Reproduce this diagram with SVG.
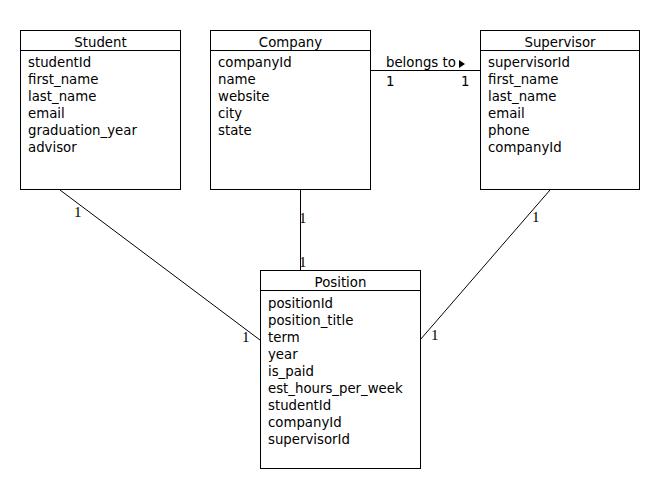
<svg xmlns="http://www.w3.org/2000/svg" width="660" height="490" viewBox="0 0 660 490">
<style>
.box{fill:#fff;stroke:#000;stroke-width:1}
.sep{stroke:#000;stroke-width:1}
.t{font-family:"DejaVu Sans",sans-serif;font-size:13.3px;fill:#000}
.h{font-family:"DejaVu Sans",sans-serif;font-size:13.3px;fill:#000;text-anchor:middle}
.m{font-family:"Liberation Serif",serif;font-size:15px;fill:#000}
.c{stroke:#000;stroke-width:1;fill:none}
</style>
<rect width="660" height="490" fill="#fff"/>
<g id="connectors">
<line class="c" x1="60" y1="190" x2="260" y2="340"/>
<line class="c" x1="300.5" y1="190" x2="300.5" y2="270"/>
<line class="c" x1="550" y1="190" x2="420" y2="340"/>
<line class="c" x1="370" y1="70.5" x2="480" y2="70.5"/>
<text class="m" x="74" y="217">1</text>
<text class="m" x="242" y="342">1</text>
<text class="m" x="299" y="223">1</text>
<text class="m" x="299" y="267">1</text>
<text class="m" x="532" y="222">1</text>
<text class="m" x="431" y="340">1</text>
<text class="t" x="386" y="67">belongs to</text>
<polygon points="459,60 465,64 459,68" fill="#000"/>
<text class="t" x="386" y="86">1</text>
<text class="t" x="461" y="86">1</text>
</g>
<g id="student">
<rect class="box" x="20.5" y="30.5" width="160" height="159"/>
<line class="sep" x1="20" y1="50.5" x2="181" y2="50.5"/>
<text class="h" x="100.5" y="47">Student</text>
<text class="t" x="28" y="67">studentId</text>
<text class="t" x="28" y="84">first_name</text>
<text class="t" x="28" y="101">last_name</text>
<text class="t" x="28" y="118">email</text>
<text class="t" x="28" y="135">graduation_year</text>
<text class="t" x="28" y="152">advisor</text>
</g>
<g id="company">
<rect class="box" x="210.5" y="30.5" width="160" height="159"/>
<line class="sep" x1="210" y1="50.5" x2="371" y2="50.5"/>
<text class="h" x="290.5" y="47">Company</text>
<text class="t" x="218" y="67">companyId</text>
<text class="t" x="218" y="84">name</text>
<text class="t" x="218" y="101">website</text>
<text class="t" x="218" y="118">city</text>
<text class="t" x="218" y="135">state</text>
</g>
<g id="supervisor">
<rect class="box" x="480.5" y="30.5" width="159" height="159"/>
<line class="sep" x1="480" y1="50.5" x2="640" y2="50.5"/>
<text class="h" x="560" y="47">Supervisor</text>
<text class="t" x="488" y="67">supervisorId</text>
<text class="t" x="488" y="84">first_name</text>
<text class="t" x="488" y="101">last_name</text>
<text class="t" x="488" y="118">email</text>
<text class="t" x="488" y="135">phone</text>
<text class="t" x="488" y="152">companyId</text>
</g>
<g id="position">
<rect class="box" x="260.5" y="270.5" width="160" height="198"/>
<line class="sep" x1="260" y1="290.5" x2="421" y2="290.5"/>
<text class="h" x="340.5" y="287">Position</text>
<text class="t" x="268" y="308">positionId</text>
<text class="t" x="268" y="325">position_title</text>
<text class="t" x="268" y="342">term</text>
<text class="t" x="268" y="359">year</text>
<text class="t" x="268" y="376">is_paid</text>
<text class="t" x="268" y="393">est_hours_per_week</text>
<text class="t" x="268" y="410">studentId</text>
<text class="t" x="268" y="427">companyId</text>
<text class="t" x="268" y="444">supervisorId</text>
</g>
</svg>
